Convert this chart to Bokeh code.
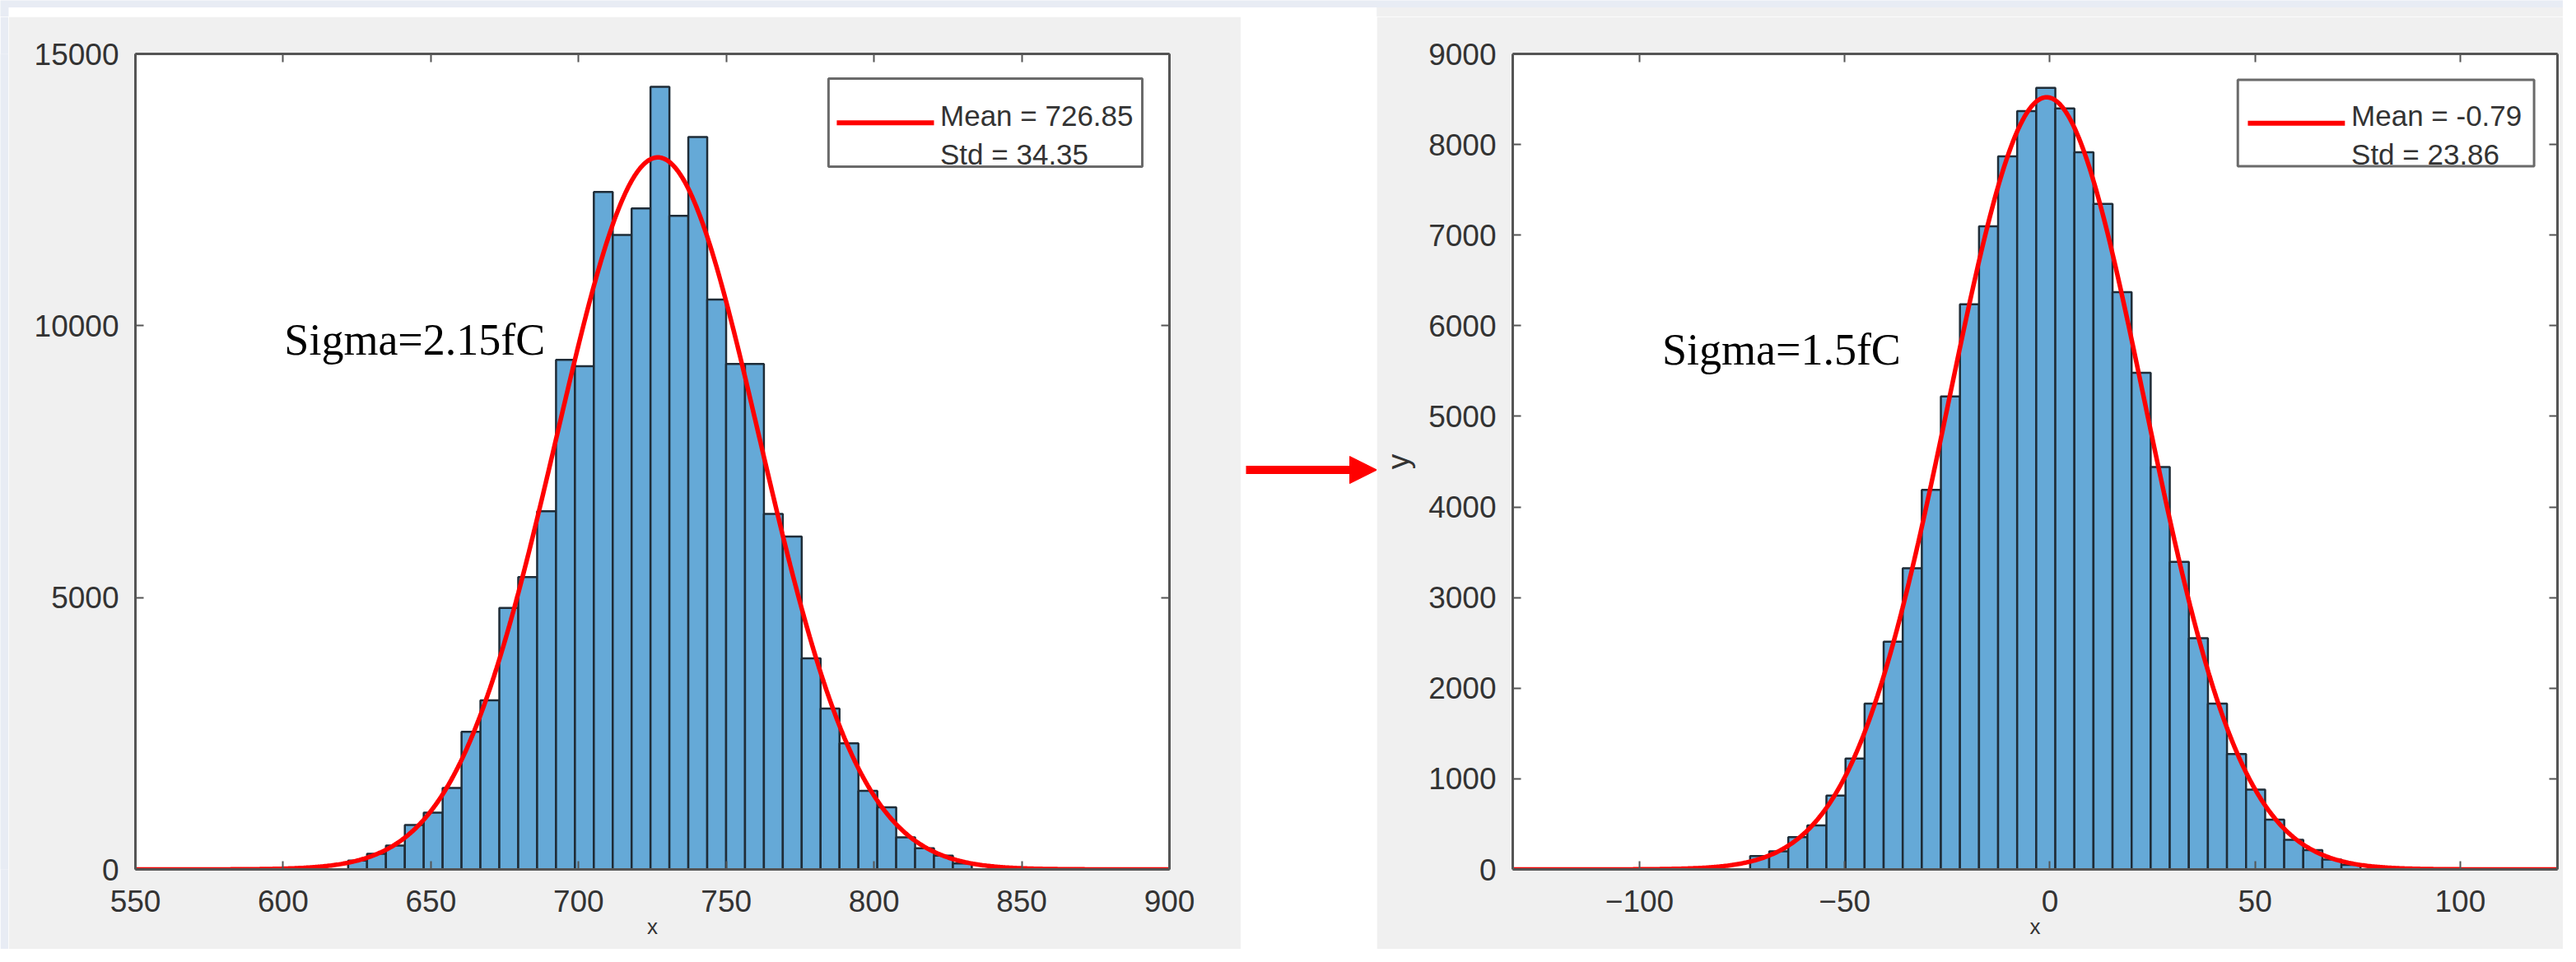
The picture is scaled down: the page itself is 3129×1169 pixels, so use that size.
import numpy as np
from bokeh.plotting import figure
from bokeh.layouts import row, column
from bokeh.models import (Range1d, LinearAxis, FixedTicker, BoxAnnotation, Label,
                          Arrow, NormalHead, CustomJSTickFormatter)
from bokeh.embed import file_html
from bokeh.resources import INLINE

# ---------------- data ----------------
left_counts = [161, 287, 438, 817, 1043, 1497, 2530, 3110, 4808, 5378, 6588,
               9372, 9255, 12460, 11669, 12157, 14394, 12021, 13470, 10482,
               9296, 9296, 6537, 6124, 3881, 2959, 2319, 1447, 1144, 590,
               388, 252, 110]
left_bin_range = (622.0, 833.1)
left_mean, left_std = 726.85, 34.35
left_xticks = [550, 600, 650, 700, 750, 800, 850, 900]
left_yticks = [0, 5000, 10000, 15000]
left_legend = ["Mean = 726.85", "Std = 34.35"]
left_note = "Sigma=2.15fC"

right_counts = [148, 199, 356, 487, 816, 1223, 1831, 2514, 3324, 4190, 5220,
                6238, 7098, 7870, 8368, 8626, 8398, 7914, 7344, 6371, 5481,
                4442, 3395, 2552, 1831, 1273, 881, 549, 326, 214, 110, 50]
right_bin_range = (-73.05, 75.7)
right_mean, right_std = -0.79, 23.86
right_xticks = [-100, -50, 0, 50, 100]
right_yticks = [0, 1000, 2000, 3000, 4000, 5000, 6000, 7000, 8000, 9000]
right_legend = ["Mean = -0.79", "Std = 23.86"]
right_note = "Sigma=1.5fC"

# ---------------- styles ----------------
PAGE_BLUE = "#e8ecf4"
FIG_GRAY = "#f0f0f0"
BAR_FILL = "#65a9d7"
BAR_LINE = "#1f2c37"
AXIS_COL = "#555555"
TXT_COL = "#333333"
TICK_FONT = "Liberation Sans"


def deco_fig(w, h, xr, yr, bg):
    p = figure(width=w, height=h, x_range=Range1d(*xr), y_range=Range1d(*yr),
               output_backend="svg", toolbar_location=None, title=None,
               x_axis_location=None, y_axis_location=None, min_border=0)
    p.min_border_left = p.min_border_right = p.min_border_top = p.min_border_bottom = 0
    p.background_fill_color = bg
    p.border_fill_color = bg
    p.outline_line_color = None
    p.xgrid.visible = False
    p.ygrid.visible = False
    return p


def style_axis(ax, ticks, labels=True, standoff=20):
    ax.ticker = FixedTicker(ticks=ticks)
    ax.major_tick_in = 10
    ax.major_tick_out = 0
    ax.major_tick_line_width = 2
    ax.major_tick_line_color = AXIS_COL
    ax.minor_tick_line_color = None
    ax.axis_line_color = AXIS_COL
    ax.axis_line_width = 3
    if labels:
        ax.major_label_text_font = TICK_FONT
        ax.major_label_text_font_size = "37px"
        ax.major_label_text_color = TXT_COL
        ax.major_label_standoff = standoff
    else:
        ax.formatter = CustomJSTickFormatter(code="return ''")
        ax.major_label_text_font_size = "1px"
        ax.major_label_standoff = 0


def panel(width, height, bl, fw, bt, fh, xr, yr, xticks, yticks, counts, bin_range,
          mean, std, legend_txt, legend_box, legend_line, legend_text_xy, note, note_xy,
          ylabel=None):
    p = figure(width=width, height=height, x_range=Range1d(*xr), y_range=Range1d(*yr),
               output_backend="svg", toolbar_location=None, title=None)
    p.min_border_left = bl
    p.min_border_right = width - bl - fw
    p.min_border_top = bt
    p.min_border_bottom = height - bt - fh
    p.background_fill_color = "white"
    p.border_fill_color = FIG_GRAY
    p.outline_line_color = None
    p.xgrid.visible = False
    p.ygrid.visible = False

    style_axis(p.xaxis[0], xticks, standoff=25)
    xa = p.xaxis[0]
    xa.axis_label = "x"
    xa.axis_label_text_font = TICK_FONT
    xa.axis_label_text_font_size = "26px"
    xa.axis_label_text_font_style = "normal"
    xa.axis_label_text_color = TXT_COL
    xa.axis_label_standoff = 0

    style_axis(p.yaxis[0], yticks, standoff=20)
    if ylabel:
        p.yaxis[0].axis_label = ylabel
        p.yaxis[0].axis_label_text_font = TICK_FONT
        p.yaxis[0].axis_label_text_font_size = "37px"
        p.yaxis[0].axis_label_text_font_style = "normal"
        p.yaxis[0].axis_label_text_color = TXT_COL
        p.yaxis[0].axis_label_standoff = 13
    top_ax = LinearAxis()
    style_axis(top_ax, xticks, labels=False)
    p.add_layout(top_ax, "above")
    right_ax = LinearAxis()
    style_axis(right_ax, yticks, labels=False)
    p.add_layout(right_ax, "right")

    # histogram bars
    n = len(counts)
    edges = np.linspace(bin_range[0], bin_range[1], n + 1)
    p.quad(left=edges[:-1], right=edges[1:], bottom=0, top=counts,
           fill_color=BAR_FILL, line_color=BAR_LINE, line_width=2.5)

    # normal fit (histfit style: area = total count * bin width)
    bw = (bin_range[1] - bin_range[0]) / n
    area = float(np.sum(counts)) * bw
    xs = np.linspace(xr[0], xr[1], 800)
    ys = area * np.exp(-0.5 * ((xs - mean) / std) ** 2) / (std * np.sqrt(2 * np.pi))
    p.line(xs, ys, line_color="#ff0000", line_width=5.5)

    # legend
    l, r, t, b = legend_box
    p.add_layout(BoxAnnotation(left=l, right=r, top=t, bottom=b, fill_color="white",
                               fill_alpha=1.0, line_color="#6a6a6a", line_alpha=1.0,
                               line_width=3))
    x0, x1, yl = legend_line
    p.add_layout(Arrow(start=None, end=None, x_start=x0, y_start=yl, x_end=x1, y_end=yl,
                       line_color="#ff0000", line_width=6))
    tx, ty1, ty2 = legend_text_xy
    for txt, ty in zip(legend_txt, (ty1, ty2)):
        p.add_layout(Label(x=tx, y=ty, text=txt, text_font=TICK_FONT,
                           text_font_size="35px", text_color=TXT_COL,
                           text_baseline="alphabetic", text_align="left"))
    # annotation
    p.add_layout(Label(x=note_xy[0], y=note_xy[1], text=note, text_font="Liberation Serif",
                       text_font_size="54px", text_color="black",
                       text_baseline="alphabetic", text_align="left"))
    return p


left = panel(1497, 1133, 154, 1256, 45, 991, (550, 900), (0, 15000),
             left_xticks, left_yticks, left_counts, left_bin_range, left_mean, left_std,
             left_legend, (784.6, 890.8, 14545, 12926), (787.4, 820.3, 13732),
             (822.4, 13864, 13153), left_note, (600.4, 9747))

right = panel(1441, 1133, 165, 1269, 25, 1011, (-130.9, 123.7), (0, 9000),
              right_xticks, right_yticks, right_counts, right_bin_range, right_mean, right_std,
              right_legend, (45.8, 118.0, 8715, 7760), (48.25, 71.9, 8235),
              (73.45, 8321, 7894), right_note, (-94.5, 5733), ylabel="y")

# page decorations (pixel coordinates of the screenshot)
strip = deco_fig(3113, 20, (8, 3121), (28, 8), PAGE_BLUE)
strip.add_layout(BoxAnnotation(left=18, right=1680, top=16.5, bottom=28, fill_color="white",
                               fill_alpha=1.0, line_color=None))
strip.add_layout(BoxAnnotation(left=1680, right=3121, top=16.5, bottom=28, fill_color=FIG_GRAY,
                               fill_alpha=1.0, line_color=None))

band = deco_fig(10, 1133, (8, 18), (1161, 28), PAGE_BLUE)

gap = deco_fig(165, 1133, (1515, 1680), (1161, 28), "white")
gap.add_layout(Arrow(end=NormalHead(size=33, fill_color="#ff0000", line_color="#ff0000"),
                     x_start=1521, y_start=606, x_end=1680, y_end=606,
                     line_color="#ff0000", line_width=10))

layout = column(strip, row(band, left, gap, right, spacing=0), spacing=0)

open("out.html", "w").write(file_html(layout, INLINE))
